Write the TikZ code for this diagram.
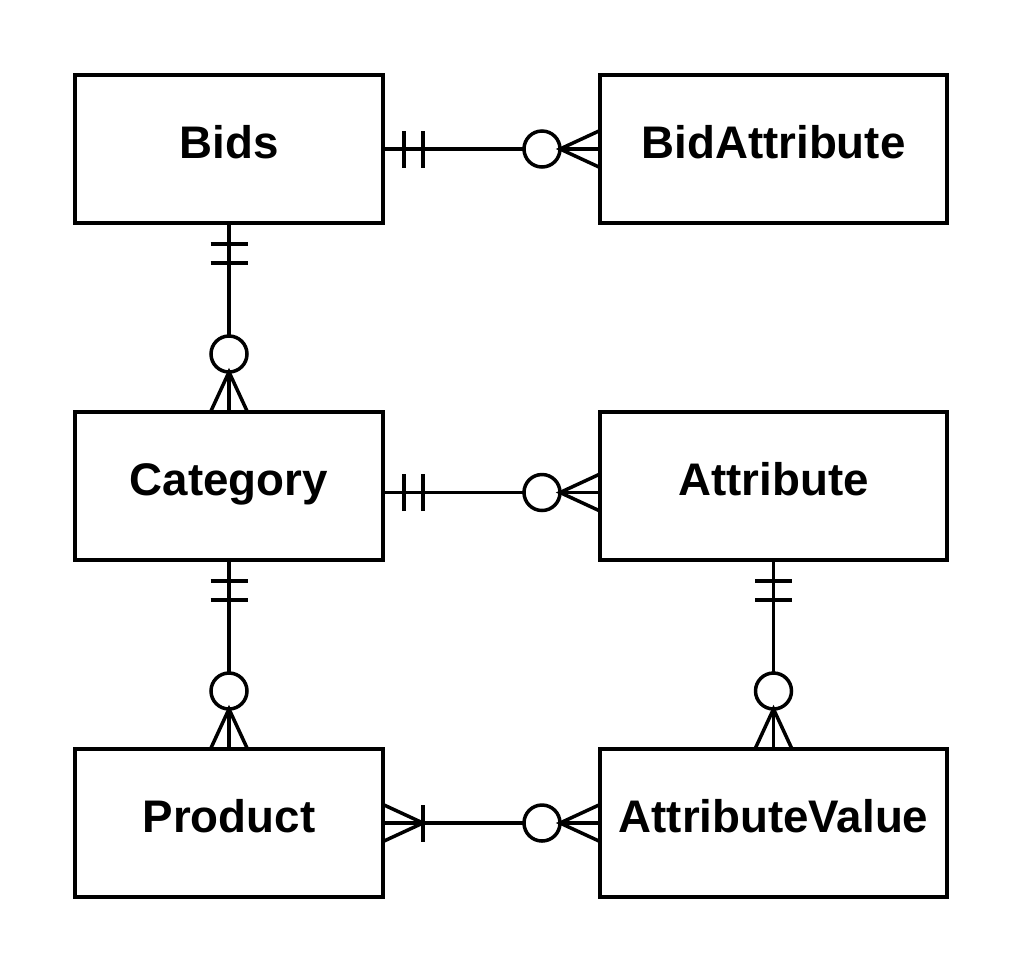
\documentclass[tikz,border=0pt]{standalone}
\usepackage{fontspec}
\setmainfont{Liberation Sans}
\usepackage{tikz}
\usetikzlibrary{positioning,decorations.markings}

\begin{document}
\begin{tikzpicture}[
            node distance=3.78cm and 4.34cm,
            box/.style={
                draw,
                rectangle,
                line width=0.07cm,
                outer sep=0pt,
                minimum width=6.16cm,
                minimum height=2.96cm,
                text height=0.68cm,
                text depth=0.32cm,
                font=\fontsize{26}{30}\selectfont\bfseries
            },
            widebox/.style={
                box,
                minimum width=6.94cm
            },
            rel/.style={
                line width=0.07cm,
                postaction=decorate
            },
            mark line/.style={
                line width=0.07cm
            },
            one only start/.style={
                decoration={markings,
                    mark=at position 0.42cm with {\draw[mark line] (0,-0.37) -- (0,0.37);},
                    mark=at position 0.8cm with {\draw[mark line] (0,-0.37) -- (0,0.37);}}
            },
            one many start/.style={
                decoration={markings,
                    mark=at position 0.8cm with {\draw[mark line] (0,-0.37) -- (0,0.37);
                        \draw[mark line] (-0.8,0.37) -- (0,0) -- (-0.8,-0.37);}}
            },
            zero many end/.style={
                decoration={markings,
                    mark=at position -1.16cm with {\draw[mark line, fill=white] (0,0) circle (0.36);},
                    mark=at position -0.8cm with {\draw[mark line] (0.8,0.37) -- (0,0) -- (0.8,-0.37);}}
            }
        ]
            \node (bids) [box] {Bids};
            \node (bidattr) [widebox, right=of bids] {BidAttribute};
            \node (category) [box, below=of bids] {Category};
            \node (attribute) [widebox, right=of category] {Attribute};
            \node (product) [box, below=of category] {Product};
            \node (attrvalue) [widebox, right=of product] {AttributeValue};

            \useasboundingbox ([shift={(-1.5cm,1.5cm)}]bids.north west) rectangle ++(20.44,-19.5);

            % relations
            \draw[rel, one only start, zero many end] (bids) -- (bidattr);
            \draw[rel, one only start, zero many end] (bids) -- (category);
            \draw[rel, one only start, zero many end] ([yshift=-0.13cm]category.east) -- ([yshift=-0.13cm]attribute.west);
            \draw[rel, one only start, zero many end] (category) -- (product);
            \draw[rel, one only start, zero many end] (attribute) -- (attrvalue);
            \draw[rel, one many start, zero many end] (product) -- (attrvalue);
        \end{tikzpicture}
\end{document}
